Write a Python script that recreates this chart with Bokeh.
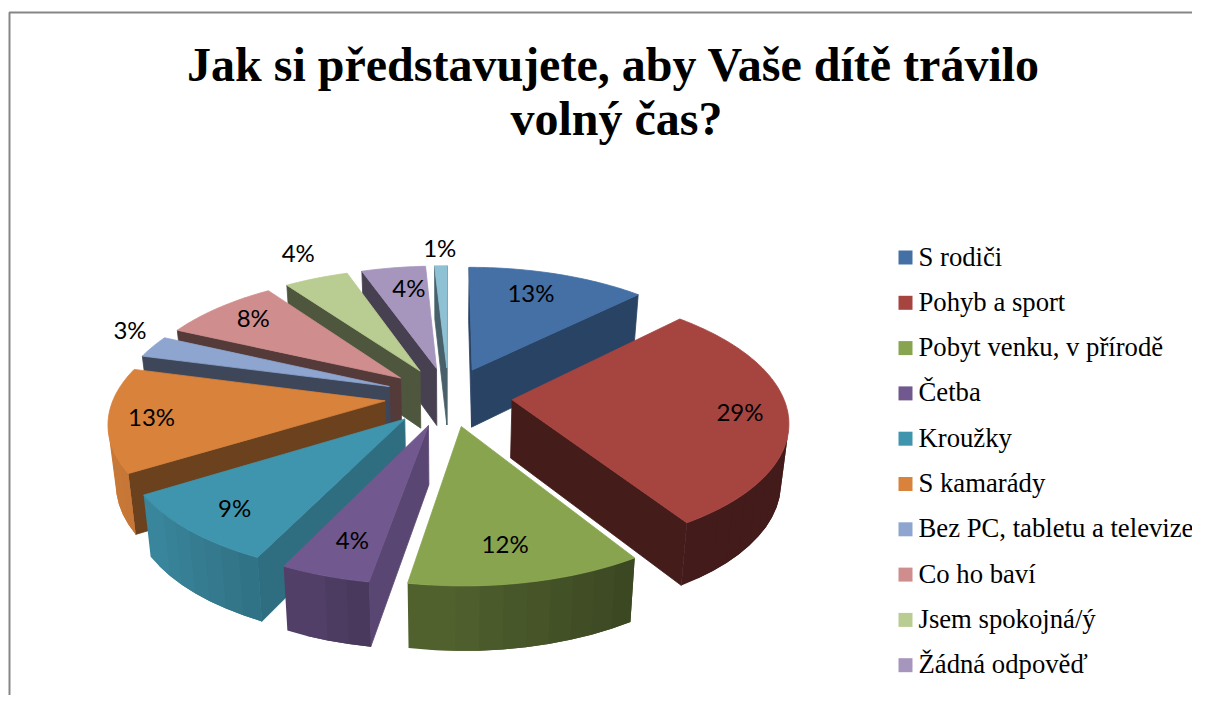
import numpy as np
from bokeh.plotting import figure
from bokeh.models import Range1d, ColumnDataSource
from bokeh.core.properties import value
from bokeh.embed import file_html
from bokeh.resources import INLINE

# ---- data
categories = ["S rodiči", "Pohyb a sport", "Pobyt venku, v přírodě", "Četba", "Kroužky",
              "S kamarády", "Bez PC, tabletu a televize", "Co ho baví", "Jsem spokojná/ý",
              "Žádná odpověď", "Ostatní"]
values = [12.5, 28.6, 11.6, 4.45, 9.0, 13.0, 2.8, 8.2, 4.49, 4.49, 0.87]
labels = ["13%", "29%", "12%", "4%", "9%", "13%", "3%", "8%", "4%", "4%", "1%"]
legend_count = 10
title_lines = ["Jak si představujete, aby Vaše dítě trávilo", "volný čas?"]

# ---- styles and layout
colors = ["#4470a6", "#a64440", "#88a44e", "#71588f", "#4095ae", "#d9823b",
          "#8ea5cf", "#cf8e8d", "#b9cc92", "#a696bd", "#8fc1d4"]
wall_shade = [0.60, 0.41, 0.40, 0.80, 0.74, 0.50, 0.43, 0.41, 0.42, 0.43, 0.50]
label_radius = [0.77, 0.81, 0.78, 0.79, 0.80, 0.825, 1.155, 0.807, 1.305, 0.757, 1.20]
label_nudge_x = [-9, 5, -6, 3, -2, -6, 12, 2, 9, 6, 0]
label_nudge_y = [-2, 0, 0, -1, 2, 0, -11, -3, -2, -2, -1]
CX, CY, B, A, PERSP, PERSP_X = 448.0, 396.0, 271.0, 125.5, 0.15, 0.15
EXPLODE, D0, D1, BOTTOM_X = 0.235, 58.0, -4.65, 0.977


def shade(hex_color, f):
    rgb = [int(hex_color[i:i + 2], 16) for i in (1, 3, 5)]
    return "#%02x%02x%02x" % tuple(int(round(c * f)) for c in rgb)


def arc_factor(deg):
    return float(np.interp(deg, [146, 190, 206, 238, 270], [0.40, 0.60, 0.74, 0.90, 0.95]))


def top_point(u, v):
    sy = 1.0 / (1.0 + PERSP * v)
    sx = 1.0 / (1.0 + PERSP_X * v)
    return CX + B * u * sx, CY - A * v * sy


def bottom_point(u, v):
    x, y = top_point(u, v)
    sy = 1.0 / (1.0 + PERSP * v)
    return CX + (x - CX) * BOTTOM_X, y + D0 + D1 * v * sy


total = sum(values)
edges = np.concatenate([[0.0], np.cumsum(values) / total * 360.0])
mids = (edges[:-1] + edges[1:]) / 2.0
order = sorted(range(len(values)), key=lambda i: -np.cos(np.radians(mids[i])))

xs, ys, fills, stroke = [], [], [], []


def add_wall(chain, color, stroked):
    """A wall under a chain of top-face points that runs leftwards on screen."""
    top = [top_point(*q) for q in chain]
    bot = [bottom_point(*q) for q in chain]
    xs.append([q[0] for q in top] + [q[0] for q in reversed(bot)])
    ys.append([q[1] for q in top] + [q[1] for q in reversed(bot)])
    fills.append(color)
    stroke.append(1.0 if stroked else 0.0)


for i in order:
    m = np.radians(mids[i])
    ox, oy = EXPLODE * np.sin(m), EXPLODE * np.cos(m)
    step = 4.0
    n = max(3, int((edges[i + 1] - edges[i]) / step))
    ang = np.linspace(edges[i], edges[i + 1], n + 1)
    rim = [(ox + np.sin(np.radians(a)), oy + np.cos(np.radians(a))) for a in ang]
    apex = (ox, oy)
    wall = shade(colors[i], wall_shade[i])
    if top_point(*rim[0])[0] < top_point(*apex)[0]:
        add_wall([apex, rim[0]], wall, True)
    if top_point(*apex)[0] < top_point(*rim[-1])[0]:
        add_wall([rim[-1], apex], wall, True)
    # the bands are painted in the clockwise order, each one overlapping the next, so no seam shows
    for k in range(n):
        a0, a1 = top_point(*rim[k]), top_point(*rim[k + 1])
        if a1[0] >= a0[0]:
            continue
        chain = [rim[k + 1], rim[k]]
        prev = k - 1
        if prev >= 0 and top_point(*rim[prev])[0] > a0[0]:
            chain = [rim[k + 1], rim[k], rim[prev]]
        add_wall(list(reversed(chain)), shade(colors[i], arc_factor((ang[k] + ang[k + 1]) / 2)), False)
    fine = np.linspace(edges[i], edges[i + 1], 4 * n + 1)
    pts = [top_point(*apex)] + [top_point(ox + np.sin(np.radians(a)), oy + np.cos(np.radians(a))) for a in fine]
    xs.append([q[0] for q in pts])
    ys.append([q[1] for q in pts])
    fills.append(colors[i])
    stroke.append(1.0)

p = figure(width=1192, height=695, x_range=Range1d(0, 1192), y_range=Range1d(695, 0),
           toolbar_location=None, output_backend="svg", min_border=0,
           background_fill_color="white", border_fill_color="white",
           outline_line_color=None)
p.xaxis.visible = False
p.yaxis.visible = False
p.grid.visible = False

# chart border
p.line([9, 9, 1192], [695, 12, 12], line_color="#868686", line_width=2)

src = ColumnDataSource(dict(xs=xs, ys=ys, fill=fills, stroke=stroke))
p.patches("xs", "ys", source=src, fill_color="fill", line_color="fill", line_alpha="stroke", line_width=0.8)

# data labels
lx, ly = [], []
for i, r in enumerate(label_radius):
    m = np.radians(mids[i])
    x, y = top_point((EXPLODE + r) * np.sin(m), (EXPLODE + r) * np.cos(m))
    lx.append(x + label_nudge_x[i])
    ly.append(y + label_nudge_y[i])
p.text(lx, ly, text=labels, text_font=value("Lato"), text_font_size="24px",
       text_align="center", text_baseline="middle", text_color="#000000")

# title
p.text([613, 616], [64, 118], text=title_lines, text_font=value("Liberation Serif"),
       text_font_style="bold", text_font_size="48px", text_align="center",
       text_baseline="middle", text_color="#000000")

# legend
LEG_TOP, LEG_STEP = 257.0, 45.3
ly2 = [LEG_TOP + LEG_STEP * i for i in range(legend_count)]
p.rect([905] * legend_count, ly2, width=14, height=14, fill_color=colors[:legend_count], line_color=None)
p.text([918] * legend_count, [y - 1 for y in ly2], text=categories[:legend_count],
       text_font=value("Liberation Serif"), text_font_size="26.7px", text_align="left",
       text_baseline="middle", text_color="#000000")

open("out.html", "w").write(file_html(p, INLINE))
